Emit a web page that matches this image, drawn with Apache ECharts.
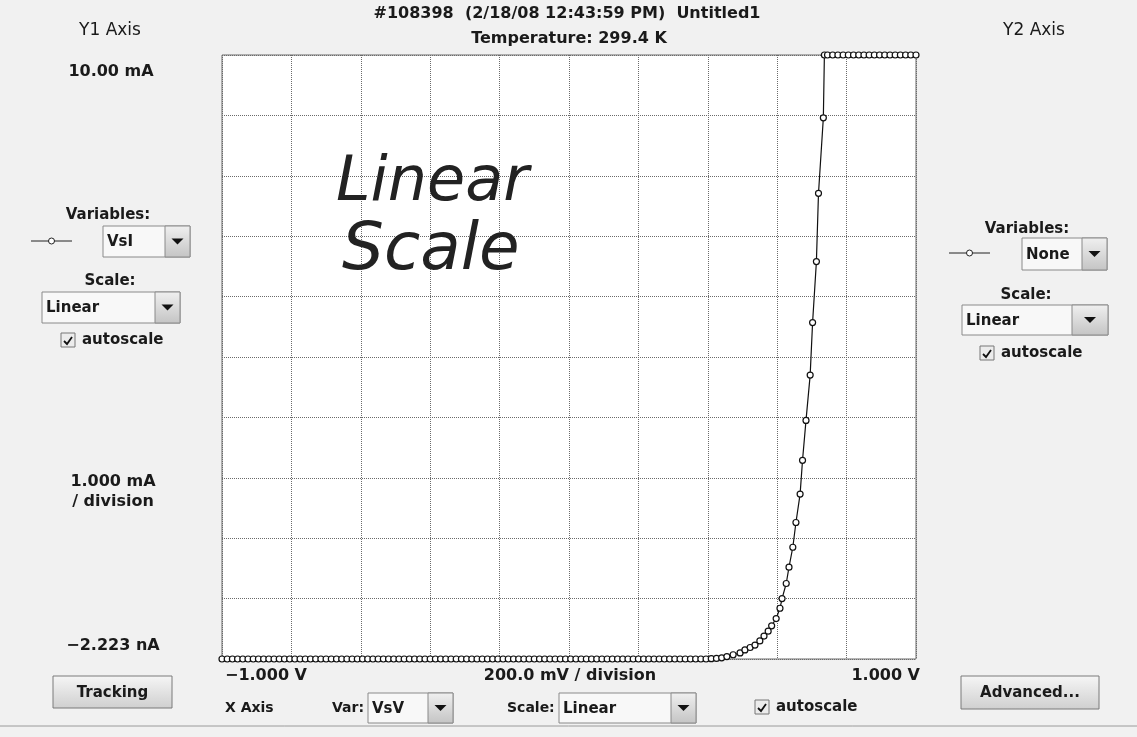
<!DOCTYPE html>
<html>
<head>
<meta charset="utf-8">
<script src="https://cdn.jsdelivr.net/npm/echarts@6/dist/echarts.min.js"></script>
<style>
  html, body { margin: 0; padding: 0; background: #f1f1f1; }
  #chart { width: 1137px; height: 737px; }
</style>
</head>
<body>
<div id="chart"></div>
<script>
// VsV (V) sweep, off region (current ~ 0)
var offVolts = [-1.000,-0.985,-0.970,-0.955,-0.940,-0.925,-0.910,-0.895,-0.880,-0.865,
  -0.850,-0.835,-0.820,-0.805,-0.790,-0.775,-0.760,-0.745,-0.730,-0.715,
  -0.700,-0.685,-0.670,-0.655,-0.640,-0.625,-0.610,-0.595,-0.580,-0.565,
  -0.550,-0.535,-0.520,-0.505,-0.490,-0.475,-0.460,-0.445,-0.430,-0.415,
  -0.400,-0.385,-0.370,-0.355,-0.340,-0.325,-0.310,-0.295,-0.280,-0.265,
  -0.250,-0.235,-0.220,-0.205,-0.190,-0.175,-0.160,-0.145,-0.130,-0.115,
  -0.100,-0.085,-0.070,-0.055,-0.040,-0.025,-0.010,0.005,0.020,0.035,
  0.050,0.065,0.080,0.095,0.110,0.125,0.140,0.155,0.170,0.185,
  0.200,0.215,0.230,0.245,0.260,0.275,0.290,0.305,0.320,0.335,
  0.350,0.365,0.380,0.395,0.410,0.425,0.440,0.455];
var offAmps = [0,0,0,0,0,0,0,0,0,0,
  0,0,0,0,0,0,0,0,0,0,
  0,0,0,0,0,0,0,0,0,0,
  0,0,0,0,0,0,0,0,0,0,
  0,0,0,0,0,0,0,0,0,0,
  0,0,0,0,0,0,0,0,0,0,
  0,0,0,0,0,0,0,0,0,0,
  0,0,0,0,0,0,0,0,0,0,
  0,0,0,0,0,0,0,0,0,0,
  0,0,0,0,0.005,0.01,0.02,0.04];
// rising part (mA)
var riseVolts = [0.473,0.493,0.507,0.522,0.536,0.550,0.562,0.574,0.584,0.597,
  0.608,0.614,0.626,0.634,0.645,0.654,0.666,0.673,0.683,0.695,
  0.702,0.713,0.719,0.733,0.736];
var riseAmps = [0.07,0.10,0.15,0.19,0.23,0.30,0.38,0.46,0.55,0.67,
  0.84,1.00,1.25,1.52,1.85,2.26,2.73,3.29,3.95,4.70,
  5.57,6.58,7.71,8.96,10.0];
// compliance (10 mA)
var satVolts = [0.745,0.760,0.775,0.790,0.805,0.820,0.835,0.850,0.865,0.880,
  0.895,0.910,0.925,0.940,0.955,0.970,0.985,1.000];
var satAmps = [10,10,10,10,10,10,10,10,10,10,10,10,10,10,10,10,10,10];

var xTicks = [-1.0, -0.8, -0.6, -0.4, -0.2, 0, 0.2, 0.4, 0.6, 0.8, 1.0];

var seriesData = [];
function addPts(vs, is) {
  for (var i = 0; i < vs.length; i++) seriesData.push([vs[i], is[i]]);
}
addPts(offVolts, offAmps);
addPts(riseVolts, riseAmps);
addPts(satVolts, satAmps);

var FONT = '"DejaVu Sans"';

function txt(x, y, s, opt) {
  opt = opt || {};
  return {
    type: 'text', x: x, y: y, z: 10,
    style: {
      text: s, fill: opt.color || '#1a1a1a',
      font: (opt.style || 'normal') + ' ' + (opt.weight || 'bold') + ' ' + (opt.size || 15) + 'px ' + (opt.family || FONT),
      textAlign: opt.align || 'center', textVerticalAlign: 'middle'
    }
  };
}
function dropdown(x, y, w, h, label, arrowW) {
  arrowW = arrowW || 25;
  return [
    { type: 'rect', shape: { x: x, y: y, width: w, height: h },
      style: { fill: '#f8f8f8', stroke: '#8a8a8a', lineWidth: 1 } },
    { type: 'rect', shape: { x: x + w - arrowW, y: y, width: arrowW, height: h },
      style: { fill: new echarts.graphic.LinearGradient(0, 0, 0, 1, [
        { offset: 0, color: '#f0f0f0' }, { offset: 1, color: '#c4c4c4' }]),
        stroke: '#8a8a8a', lineWidth: 1 } },
    { type: 'polygon', shape: { points: [
        [x + w - arrowW / 2 - 6, y + h / 2 - 3], [x + w - arrowW / 2 + 6, y + h / 2 - 3],
        [x + w - arrowW / 2, y + h / 2 + 3]] }, style: { fill: '#111' } },
    txt(x + 4, y + h / 2 + 1, label, { align: 'left', size: 15 })
  ];
}
function checkbox(x, y, label) {
  return [
    { type: 'rect', shape: { x: x, y: y, width: 14, height: 14 },
      style: { fill: '#ececec', stroke: '#777', lineWidth: 1 } },
    { type: 'polyline', shape: { points: [[x + 3, y + 8], [x + 6, y + 11], [x + 11, y + 4]] },
      style: { stroke: '#111', lineWidth: 1.8, fill: 'none' } },
    txt(x + 21, y + 7, label, { align: 'left', size: 15 })
  ];
}
function button(x, y, w, h, label) {
  return [
    { type: 'rect', shape: { x: x, y: y, width: w, height: h },
      style: { fill: new echarts.graphic.LinearGradient(0, 0, 0, 1, [
        { offset: 0, color: '#f6f6f6' }, { offset: 1, color: '#cfcfcf' }]),
        stroke: '#7a7a7a', lineWidth: 1 } },
    txt(x + w / 2, y + h / 2 + 1, label, { size: 15 })
  ];
}
function legendMark(x1, x2, y) {
  return [
    { type: 'line', shape: { x1: x1, y1: y, x2: x2, y2: y }, style: { stroke: '#222', lineWidth: 1 } },
    { type: 'circle', shape: { cx: (x1 + x2) / 2, cy: y, r: 3 }, style: { fill: '#fff', stroke: '#222', lineWidth: 1 } }
  ];
}

var elements = [];
elements.push(txt(567, 14, '#108398  (2/18/08 12:43:59 PM)  Untitled1', { size: 16 }));
elements.push(txt(569, 39, 'Temperature: 299.4 K', { size: 16 }));
elements.push(txt(110, 31, 'Y1 Axis', { weight: 'normal', size: 17 }));
elements.push(txt(1034, 31, 'Y2 Axis', { weight: 'normal', size: 17 }));
elements.push(txt(111, 72, '10.00 mA', { size: 16 }));
elements.push(txt(108, 215, 'Variables:'));
elements = elements.concat(legendMark(31, 72, 241));
elements = elements.concat(dropdown(103, 226, 87, 31, 'VsI'));
elements.push(txt(110, 281, 'Scale:'));
elements = elements.concat(dropdown(42, 292, 138, 31, 'Linear'));
elements = elements.concat(checkbox(61, 333, 'autoscale'));
elements.push(txt(113, 482, '1.000 mA', { size: 16 }));
elements.push(txt(113, 502, '/ division', { size: 16 }));
elements.push(txt(113, 646, '\u22122.223 nA', { size: 16 }));
elements = elements.concat(button(53, 676, 119, 32, 'Tracking'));

elements.push(txt(225, 676, '\u22121.000 V', { align: 'left', size: 16 }));
elements.push(txt(570, 676, '200.0 mV / division', { size: 16 }));
elements.push(txt(920, 676, '1.000 V', { align: 'right', size: 16 }));
elements.push(txt(225, 708, 'X Axis', { align: 'left', size: 14 }));
elements.push(txt(332, 708, 'Var:', { align: 'left', size: 14 }));
elements = elements.concat(dropdown(368, 693, 85, 30, 'VsV'));
elements.push(txt(507, 708, 'Scale:', { align: 'left', size: 14 }));
elements = elements.concat(dropdown(559, 693, 137, 30, 'Linear'));
elements = elements.concat(checkbox(755, 700, 'autoscale'));
elements = elements.concat(button(961, 676, 138, 33, 'Advanced...'));

elements.push(txt(1027, 229, 'Variables:'));
elements = elements.concat(legendMark(949, 990, 253));
elements = elements.concat(dropdown(1022, 238, 85, 32, 'None'));
elements.push(txt(1026, 295, 'Scale:'));
elements = elements.concat(dropdown(962, 305, 146, 30, 'Linear', 36));
elements = elements.concat(checkbox(980, 346, 'autoscale'));

// bottom scroll bar edge
elements.push({ type: 'line', shape: { x1: 0, y1: 726, x2: 1137, y2: 726 }, style: { stroke: '#9a9a9a', lineWidth: 1 } });

// handwritten note on the plot
var handFont = '"DejaVu Sans ExtraLight", "DejaVu Sans"';
elements.push(txt(336, 184, 'Linear', { align: 'left', size: 62, weight: 200, style: 'italic', color: '#222', family: handFont }));
elements.push(txt(342, 252, 'Scale', { align: 'left', size: 66, weight: 200, style: 'italic', color: '#222', family: handFont }));

var myChart = echarts.init(document.getElementById('chart'));
var option = {
  backgroundColor: '#f1f1f1',
  animation: false,
  grid: {
    left: 222, top: 55, width: 694, height: 604,
    show: true, backgroundColor: '#ffffff', borderColor: '#6a6a6a', borderWidth: 1
  },
  xAxis: {
    type: 'value', min: xTicks[0], max: xTicks[xTicks.length - 1], interval: 0.2,
    axisLine: { show: false }, axisTick: { show: false }, axisLabel: { show: false },
    splitLine: { show: true, lineStyle: { color: '#6a6a6a', type: 'dotted', width: 1 } }
  },
  yAxis: {
    type: 'value', min: 0, max: 10, interval: 1,
    axisLine: { show: false }, axisTick: { show: false }, axisLabel: { show: false },
    splitLine: { show: true, lineStyle: { color: '#6a6a6a', type: 'dotted', width: 1 } }
  },
  series: [{
    name: 'VsI',
    type: 'line',
    data: seriesData,
    symbol: 'circle',
    symbolSize: 6,
    showAllSymbol: true,
    clip: false,
    lineStyle: { color: '#111', width: 1.2 },
    itemStyle: { color: '#ffffff', borderColor: '#111', borderWidth: 1.2 }
  }],
  graphic: elements
};
myChart.setOption(option);
</script>
</body>
</html>
